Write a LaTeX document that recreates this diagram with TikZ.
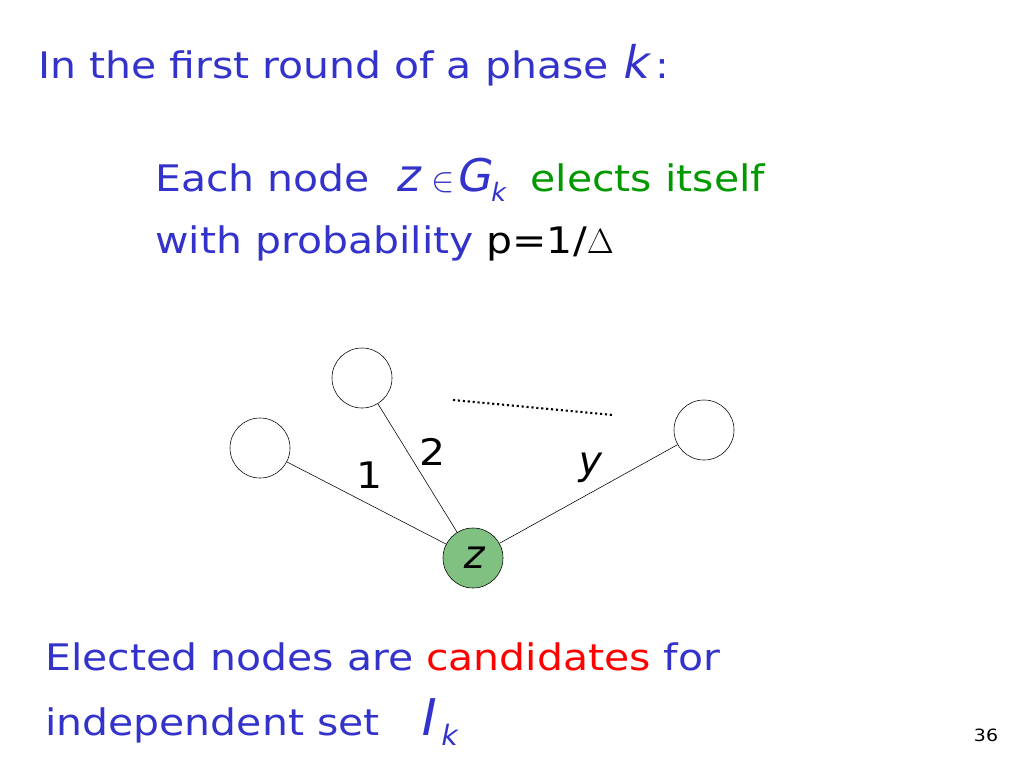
\documentclass[tikz,border=0pt]{standalone}
\usepackage{fontspec}
\setmainfont{DejaVu Sans}[FakeStretch=1.12]
\newfontfamily\mathish{DejaVu Sans}[FakeSlant=0.2]
\definecolor{txtblue}{RGB}{51,51,204}
\definecolor{txtgreen}{RGB}{0,153,0}
\definecolor{zgreen}{RGB}{128,192,128}
\usetikzlibrary{positioning}
\tikzset{
  vtx/.style={draw,circle,minimum size=1.5cm,inner sep=0pt},
  txt/.style={anchor=west,inner sep=0pt,text=txtblue,font=\fontsize{26}{30}\selectfont},
  lbl/.style={font=\fontsize{26}{30}\selectfont}
}
\begin{document}
\begin{tikzpicture}[x=0.025cm,y=-0.025cm]
  \useasboundingbox (0,0) rectangle (1024,768);
  % heading
  \node[txt] (head) at (38,65) {In the first round of a phase {\mathish\fontsize{32}{32}\selectfont k\,}:};
  \node[txt] (each) at (155,180) {Each node \ {\mathish\fontsize{32}{32}\selectfont z}\,\,$\in${\mathish\fontsize{32}{32}\selectfont G}\raisebox{-7pt}{\mathish\fontsize{18}{18}\selectfont k}\ \ \textcolor{txtgreen}{elects itself}};
  \node[txt] (prob) at (155,243) {with probability \textcolor{black}{p=1/$\Delta$}};
  % graph
  \node[vtx] (top) at (362,378) {};
  \node[vtx] (left) at (260,448) {};
  \node[vtx] (right) at (704,430) {};
  \node[vtx,fill=zgreen] (z) at (473,558) {\fontsize{28}{30}\selectfont\mathish z};
  \draw (left) -- (z);
  \draw (top) -- (z);
  \draw (right) -- (z);
  \coordinate (d1) at (453,400);
  \coordinate (d2) at (613,415);
  \draw[line width=1.5pt,dotted] (d1) -- (d2);
  \node[lbl] (one) at (370,475) {1};
  \node[lbl] (two) at (433,452) {2};
  \node[lbl,font=\fontsize{28}{30}\selectfont\mathish] (why) at (588,468) {y};
  % bottom text
  \node[txt] (elect) at (45,657) {Elected nodes are \textcolor{red}{candidates} for};
  \node[txt] (indep) at (45,722) {independent set \ \ {\mathish\fontsize{36}{36}\selectfont I}\,\raisebox{-7pt}{\mathish\fontsize{20}{20}\selectfont k}};
  \node[font=\fontsize{12}{12}\selectfont\rmfamily] (page) at (986,735) {36};
\end{tikzpicture}
\end{document}
